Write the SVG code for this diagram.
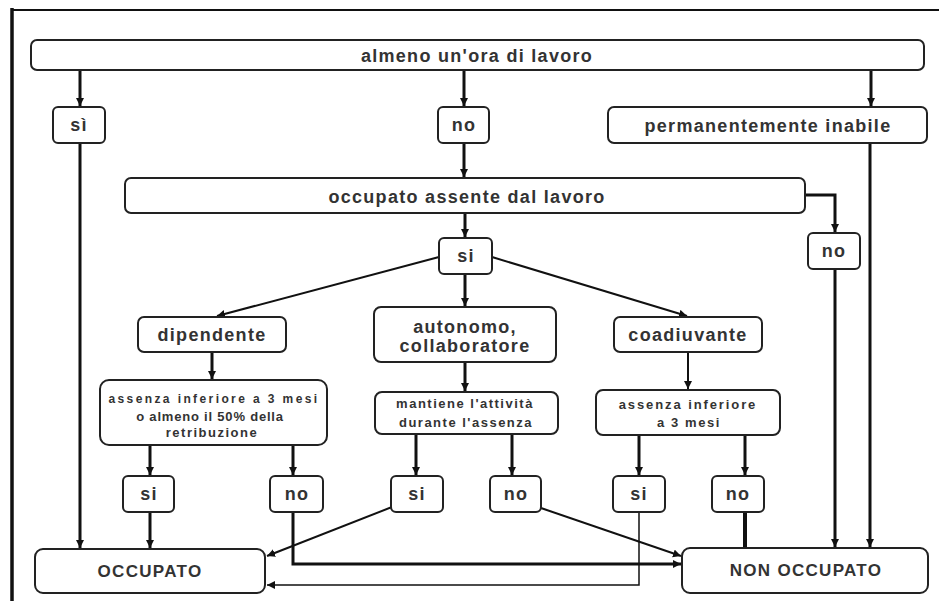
<svg xmlns="http://www.w3.org/2000/svg" width="939" height="601" viewBox="0 0 939 601">
<style>
.box{fill:#fff;stroke:#222;stroke-width:2}
.t{font-family:"Liberation Sans",Arial,sans-serif;font-weight:bold;fill:#333;text-anchor:middle;dominant-baseline:central}
.big{font-size:18px;letter-spacing:1.3px}
.cap{font-size:17px;letter-spacing:1.3px}
.sm{font-size:13px;letter-spacing:1.6px}
.xs{font-size:12px;letter-spacing:2.4px}
.c{fill:none;stroke:#111}
.w3{stroke-width:3}
.w2{stroke-width:2}
.w1{stroke-width:1.5}
.w4{stroke-width:4}
</style>
<defs>
<marker id="ah" markerUnits="userSpaceOnUse" markerWidth="9" markerHeight="9" refX="8" refY="4" orient="auto">
<path d="M0,0 L8,4 L0,8 z" fill="#111"/>
</marker>
</defs>
<rect width="939" height="601" fill="#fff"/>
<g id="frame">
<line x1="12" y1="8" x2="12" y2="601" stroke="#111" stroke-width="3.5"/>
<line x1="11" y1="10" x2="939" y2="10" stroke="#111" stroke-width="2"/>
</g>
<g id="connectors">
<path class="c w3" d="M80,70 V106" marker-end="url(#ah)"/>
<path class="c w3" d="M464,70 V106" marker-end="url(#ah)"/>
<path class="c w3" d="M871,70 V106" marker-end="url(#ah)"/>
<path class="c w3" d="M464,143 V177" marker-end="url(#ah)"/>
<path class="c w3" d="M80,143 V548" marker-end="url(#ah)"/>
<path class="c w3" d="M870,143 V547" marker-end="url(#ah)"/>
<path class="c w3" d="M805,195 H835 V232" marker-end="url(#ah)"/>
<path class="c w3" d="M835,269 V547" marker-end="url(#ah)"/>
<path class="c w3" d="M465,213 V237" marker-end="url(#ah)"/>
<path class="c w2" d="M439,257 L217,316" marker-end="url(#ah)"/>
<path class="c w2" d="M492,257 L687,316" marker-end="url(#ah)"/>
<path class="c w3" d="M465,274 V306" marker-end="url(#ah)"/>
<path class="c w3" d="M212,352 V379" marker-end="url(#ah)"/>
<path class="c w3" d="M465,362 V391" marker-end="url(#ah)"/>
<path class="c w2" d="M688,352 V389" marker-end="url(#ah)"/>
<path class="c w3" d="M150,445 V475" marker-end="url(#ah)"/>
<path class="c w3" d="M293,445 V475" marker-end="url(#ah)"/>
<path class="c w3" d="M416,434 V475" marker-end="url(#ah)"/>
<path class="c w3" d="M512,434 V475" marker-end="url(#ah)"/>
<path class="c w3" d="M639,435 V475" marker-end="url(#ah)"/>
<path class="c w3" d="M745,435 V475" marker-end="url(#ah)"/>
<path class="c w3" d="M150,512 V548" marker-end="url(#ah)"/>
<path class="c w2" d="M392,507 L267,556" marker-end="url(#ah)"/>
<path class="c w1" d="M639,512 V585 H267" marker-end="url(#ah)"/>
<path class="c w3" d="M293,512 V564 H681" marker-end="url(#ah)"/>
<path class="c w2" d="M541,508 L681,556" marker-end="url(#ah)"/>
<path class="c w4" d="M745,510 V548"/>
</g>
<g id="n-almeno"><rect class="box" x="31" y="40" width="893" height="30" rx="6"/><text class="t big" x="477" y="56">almeno un'ora di lavoro</text></g>
<g id="n-si1"><rect class="box" x="53" y="107" width="52" height="36" rx="5"/><text class="t big" x="79" y="125">sì</text></g>
<g id="n-no1"><rect class="box" x="438" y="107" width="51" height="36" rx="5"/><text class="t big" x="464" y="125">no</text></g>
<g id="n-perm"><rect class="box" x="608" y="107" width="319" height="36" rx="6"/><text class="t big" x="768" y="126">permanentemente inabile</text></g>
<g id="n-assente"><rect class="box" x="125" y="178" width="680" height="35" rx="6"/><text class="t big" x="467" y="197">occupato assente dal lavoro</text></g>
<g id="n-no2"><rect class="box" x="808" y="233" width="52" height="36" rx="5"/><text class="t big" x="834" y="251">no</text></g>
<g id="n-si2"><rect class="box" x="439" y="238" width="53" height="36" rx="5"/><text class="t big" x="466" y="256">si</text></g>
<g id="n-dip"><rect class="box" x="138" y="317" width="148" height="35" rx="6"/><text class="t big" x="212" y="335">dipendente</text></g>
<g id="n-auto"><rect class="box" x="374" y="307" width="182" height="55" rx="7"/><text class="t big" x="465" y="327">autonomo,</text><text class="t big" x="465" y="346">collaboratore</text></g>
<g id="n-coad"><rect class="box" x="614" y="317" width="148" height="35" rx="6"/><text class="t big" x="688" y="335">coadiuvante</text></g>
<g id="n-ass1"><rect class="box" x="100" y="380" width="227" height="65" rx="9"/><text class="t xs" x="214" y="399">assenza inferiore a 3 mesi</text><text class="t sm" x="210" y="416" style="letter-spacing:0.8px">o almeno il 50% della</text><text class="t sm" x="212" y="432" style="letter-spacing:1.5px">retribuzione</text></g>
<g id="n-mant"><rect class="box" x="375" y="392" width="183" height="42" rx="7"/><text class="t sm" x="465" y="403" style="letter-spacing:1.5px">mantiene l'attività</text><text class="t sm" x="466" y="422" style="letter-spacing:1.5px">durante l'assenza</text></g>
<g id="n-ass2"><rect class="box" x="596" y="390" width="184" height="45" rx="7"/><text class="t sm" x="688" y="404" style="letter-spacing:1.9px">assenza inferiore</text><text class="t sm" x="689" y="422">a 3 mesi</text></g>
<g id="n-si3"><rect class="box" x="123" y="476" width="51" height="36" rx="5"/><text class="t big" x="149" y="494">si</text></g>
<g id="n-no3"><rect class="box" x="270" y="476" width="53" height="36" rx="5"/><text class="t big" x="297" y="494">no</text></g>
<g id="n-si4"><rect class="box" x="391" y="476" width="52" height="36" rx="5"/><text class="t big" x="417" y="494">si</text></g>
<g id="n-no4"><rect class="box" x="490" y="476" width="51" height="36" rx="5"/><text class="t big" x="516" y="494">no</text></g>
<g id="n-si5"><rect class="box" x="613" y="476" width="52" height="36" rx="5"/><text class="t big" x="639" y="494">si</text></g>
<g id="n-no5"><rect class="box" x="712" y="476" width="52" height="36" rx="5"/><text class="t big" x="738" y="494">no</text></g>
<g id="n-occ"><rect class="box" x="35" y="549" width="230" height="44" rx="8"/><text class="t cap" x="150" y="571">OCCUPATO</text></g>
<g id="n-nonocc"><rect class="box" x="682" y="548" width="246" height="45" rx="8"/><text class="t cap" x="806" y="570">NON OCCUPATO</text></g>
</svg>
